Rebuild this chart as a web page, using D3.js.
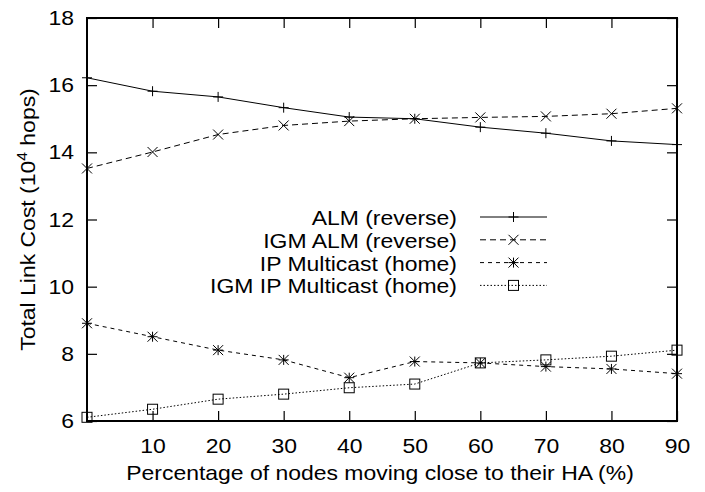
<!DOCTYPE html>
<html>
<head>
<meta charset="utf-8">
<script src="https://cdn.jsdelivr.net/npm/d3@7"></script>
<style>
  body { margin: 0; background: #fff; }
  text { font-family: "Liberation Sans", Arial, sans-serif; fill: #000; }
</style>
</head>
<body>
<div id="chart"></div>
<script>
// values
var xValues = [0, 10, 20, 30, 40, 50, 60, 70, 80, 90];
var xTicks = [10, 20, 30, 40, 50, 60, 70, 80, 90];
var yTicks = [6, 8, 10, 12, 14, 16, 18];

var almReverse = [16.22, 15.82, 15.65, 15.33, 15.05, 15.0, 14.75, 14.57, 14.34, 14.23];
var igmAlmReverse = [13.52, 14.01, 14.53, 14.80, 14.93, 15.0, 15.04, 15.07, 15.15, 15.31];
var ipMulticastHome = [8.91, 8.51, 8.11, 7.82, 7.29, 7.77, 7.73, 7.62, 7.55, 7.41];
var igmIpMulticastHome = [6.11, 6.35, 6.65, 6.80, 6.99, 7.10, 7.73, 7.82, 7.93, 8.11];

var seriesNames = ["ALM (reverse)", "IGM ALM (reverse)", "IP Multicast (home)", "IGM IP Multicast (home)"];
var seriesValues = [almReverse, igmAlmReverse, ipMulticastHome, igmIpMulticastHome];
var dashes = [null, "6,4", "4,4", "1.5,2"];
var markers = ["plus", "cross", "star", "square"];

var W = 705, H = 492;
var margin = {top: 18, right: 28, bottom: 71, left: 87},
    width = W - margin.left - margin.right,
    height = H - margin.top - margin.bottom;
// the reference font is a bit wider than Liberation Sans at the same height
var fontSize = 20.5, stretch = 1.12;

var svg = d3.select("#chart").append("svg")
    .attr("width", W)
    .attr("height", H);

var g = svg.append("g")
    .attr("transform", "translate(" + margin.left + "," + margin.top + ")");

var x = d3.scaleLinear().domain([0, 90]).range([0, width]);
var y = d3.scaleLinear().domain([6, 18]).range([height, 0]);

var tickLen = 10;

// axes: ticks drawn inward, mirrored on top and right
g.append("g")
    .attr("transform", "translate(0," + height + ")")
    .call(d3.axisBottom(x).tickValues(xTicks).tickSize(-tickLen).tickPadding(17).tickFormat(d3.format("d")))
    .call(styleAxis);

g.append("g")
    .call(d3.axisTop(x).tickValues(xTicks).tickSize(-tickLen).tickFormat(""))
    .call(styleAxis);

g.append("g")
    .call(d3.axisLeft(y).tickValues(yTicks).tickSize(-tickLen).tickPadding(13).tickFormat(d3.format("d")))
    .call(styleAxis)
    .selectAll(".tick text")
    .attr("x", null)
    .attr("transform", "translate(-13,0) scale(" + stretch + ",1)");

g.append("g")
    .attr("transform", "translate(" + width + ",0)")
    .call(d3.axisRight(y).tickValues(yTicks).tickSize(-tickLen).tickFormat(""))
    .call(styleAxis);

function styleAxis(sel) {
  sel.select(".domain").remove();
  sel.selectAll(".tick line").attr("stroke", "#000").attr("stroke-width", 1.2);
  sel.selectAll(".tick text").attr("font-size", fontSize).attr("fill", "#000")
     .attr("transform", "scale(" + stretch + ",1)")
     .style("font-family", "Liberation Sans, Arial, sans-serif");
}

// frame
g.append("rect")
    .attr("width", width)
    .attr("height", height)
    .attr("fill", "none")
    .attr("stroke", "#000")
    .attr("stroke-width", 2);

// markers
function drawMarker(sel, type, cx, cy) {
  var r = 5;
  if (type === "plus") {
    sel.append("path").attr("d", "M" + (cx - r) + "," + cy + "H" + (cx + r) + "M" + cx + "," + (cy - r) + "V" + (cy + r));
  } else if (type === "cross") {
    sel.append("path").attr("d", "M" + (cx - r) + "," + (cy - r) + "L" + (cx + r) + "," + (cy + r) +
        "M" + (cx - r) + "," + (cy + r) + "L" + (cx + r) + "," + (cy - r));
  } else if (type === "star") {
    sel.append("path").attr("d", "M" + (cx - r) + "," + cy + "H" + (cx + r) + "M" + cx + "," + (cy - r) + "V" + (cy + r) +
        "M" + (cx - r) + "," + (cy - r) + "L" + (cx + r) + "," + (cy + r) +
        "M" + (cx - r) + "," + (cy + r) + "L" + (cx + r) + "," + (cy - r));
  } else {
    sel.append("rect").attr("x", cx - 5).attr("y", cy - 5).attr("width", 10).attr("height", 10).attr("fill", "none");
  }
}

var line = d3.line()
    .x(function(d, i) { return x(xValues[i]); })
    .y(function(d) { return y(d); });

seriesValues.forEach(function(vals, s) {
  var sg = g.append("g").attr("stroke", "#000").attr("fill", "none").attr("stroke-width", 1);
  sg.append("path")
      .attr("d", line(vals))
      .attr("stroke-dasharray", dashes[s]);
  vals.forEach(function(v, i) {
    drawMarker(sg, markers[s], x(xValues[i]), y(v));
  });
});

// legend
var legend = g.append("g");
var legX = 457 - margin.left, lineX0 = 480 - margin.left, lineX1 = 547 - margin.left;
seriesNames.forEach(function(name, s) {
  var ly = 217 - margin.top + s * 22.8;
  legend.append("text")
      .attr("transform", "translate(" + legX + "," + (ly + 8) + ") scale(" + stretch + ",1)")
      .attr("text-anchor", "end")
      .attr("font-size", fontSize)
      .text(name);
  var lg = legend.append("g").attr("stroke", "#000").attr("fill", "none").attr("stroke-width", 1);
  lg.append("line")
      .attr("x1", lineX0).attr("x2", lineX1)
      .attr("y1", ly).attr("y2", ly)
      .attr("stroke-dasharray", dashes[s]);
  drawMarker(lg, markers[s], (lineX0 + lineX1) / 2, ly);
});

// axis titles
svg.append("text")
    .attr("transform", "translate(" + (margin.left + width / 2 - 2) + ",480) scale(" + stretch + ",1)")
    .attr("text-anchor", "middle")
    .attr("font-size", fontSize)
    .text("Percentage of nodes moving close to their HA (%)");

var yt = svg.append("text")
    .attr("transform", "translate(35," + (margin.top + height / 2) + ") rotate(-90) scale(" + stretch + ",1)")
    .attr("text-anchor", "middle")
    .attr("font-size", fontSize);
yt.append("tspan").text("Total Link Cost (10");
yt.append("tspan").attr("baseline-shift", "super").attr("font-size", 14).text("4");
yt.append("tspan").text(" hops)");
</script>
</body>
</html>
